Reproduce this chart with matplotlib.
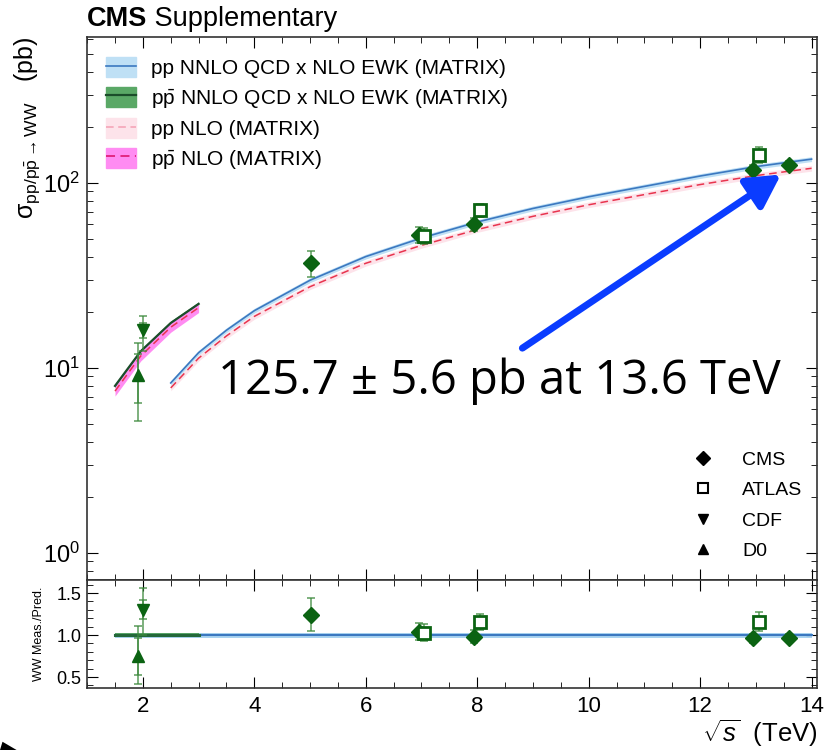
import matplotlib.pyplot as plt
from matplotlib.lines import Line2D
from matplotlib.patches import Patch, Polygon
from matplotlib.ticker import MultipleLocator, LogLocator, NullFormatter, FormatStrFormatter, FuncFormatter
import numpy as np

plt.rcParams['font.family'] = ['Liberation Sans', 'DejaVu Sans']
plt.rcParams['mathtext.fontset'] = 'custom'
plt.rcParams['mathtext.rm'] = 'Liberation Sans'
plt.rcParams['mathtext.it'] = 'Liberation Sans:italic'
plt.rcParams['mathtext.bf'] = 'Liberation Sans:bold'

# MATRIX predictions for pp -> WW (pb)
pp_sqrts = [2.5, 3.0, 3.5, 4.0, 5.0, 6.0, 7.0, 8.0, 9.0, 10.0, 11.0, 12.0, 13.0, 13.6, 14.0]
pp_nnlo = [8.3, 12.1, 16.0, 20.4, 29.8, 40.0, 50.4, 61.5, 72.8, 84.2, 95.8, 109.0, 122.5, 129.6, 134.5]
pp_nlo = [7.8, 11.3, 14.9, 19.0, 27.5, 36.8, 46.0, 56.0, 66.0, 76.2, 86.5, 98.0, 109.5, 115.8, 120.0]
pp_nnlo_rel = 0.03
pp_nlo_rel = 0.035

# MATRIX predictions for ppbar -> WW (pb)
ppbar_sqrts = [1.5, 1.96, 2.5, 3.0]
ppbar_nnlo = [8.0, 12.3, 17.5, 22.2]
ppbar_nlo = [7.5, 11.6, 16.6, 21.2]
ppbar_nnlo_rel = 0.025
ppbar_nlo_rel = 0.06

# measurements (pb); pred = NNLO prediction at the same energy
cms_sqrts = [5.02, 6.95, 7.95, 12.95, 13.6]
cms_xsec = [37.0, 52.4, 60.1, 117.6, 125.7]
cms_err = [5.8, 5.1, 4.8, 6.8, 5.6]
cms_pred = [29.8, 50.4, 61.5, 122.5, 129.6]

atlas_sqrts = [7.05, 8.05, 13.05]
atlas_xsec = [51.9, 71.1, 142.0]
atlas_err = [4.9, 5.6, 14.0]
atlas_pred = [50.4, 61.5, 122.5]

cdf_sqrts = [2.0]
cdf_xsec = [16.0]
cdf_err_lo = [3.7]
cdf_err_hi = [3.2]
cdf_stat = [1.4]
cdf_pred = [12.3]

d0_sqrts = [1.92]
d0_xsec = [9.2]
d0_err_lo = [4.0]
d0_err_hi = [4.4]
d0_stat = [2.7]
d0_pred = [12.3]

ratio_range = [1.5, 14.0]
ppbar_ratio_range = [1.5, 3.0]

green = '#0b6312'
err_green = '#3d8a3d'
blue_line = '#3b78c0'
blue_band = '#bfe0f5'
dkgreen_line = '#1b4d2a'
green_band = '#5aa866'
red_line = '#e8344e'
pink_band = '#fde3ea'
magenta_band = '#ff8cf2'

fig = plt.figure(figsize=(8.3, 7.5), dpi=100)
ax = fig.add_axes([0.105, 0.2267, 0.8795, 0.724])
rax = fig.add_axes([0.105, 0.0827, 0.8795, 0.144], sharex=ax)

# theory bands and central lines
pp_nnlo = np.array(pp_nnlo)
pp_nlo = np.array(pp_nlo)
ppbar_nnlo = np.array(ppbar_nnlo)
ppbar_nlo = np.array(ppbar_nlo)

ax.fill_between(pp_sqrts, pp_nlo * (1 - pp_nlo_rel), pp_nlo * (1 + pp_nlo_rel), color=pink_band, lw=0)
ax.fill_between(pp_sqrts, pp_nnlo * (1 - pp_nnlo_rel), pp_nnlo * (1 + pp_nnlo_rel), color=blue_band, lw=0)
ax.plot(pp_sqrts, pp_nnlo, color=blue_line, lw=1.2)
ax.plot(pp_sqrts, pp_nlo, color=red_line, lw=1.1, ls=(0, (5, 3)))

ax.fill_between(ppbar_sqrts, ppbar_nnlo * (1 - ppbar_nnlo_rel), ppbar_nnlo * (1 + ppbar_nnlo_rel), color=green_band, lw=0)
ax.fill_between(ppbar_sqrts, ppbar_nlo * (1 - ppbar_nlo_rel), ppbar_nlo * (1 + ppbar_nlo_rel), color=magenta_band, lw=0)
ax.plot(ppbar_sqrts, ppbar_nnlo, color=dkgreen_line, lw=1.6)
ax.plot(ppbar_sqrts, ppbar_nlo, color=red_line, lw=1.1, ls=(0, (5, 3)))


def draw_points(axis, x, y, lo, hi, marker, ms, filled, stat=None):
    axis.errorbar(x, y, yerr=[lo, hi], fmt='none', ecolor=err_green, elinewidth=1.1,
                  capsize=3, capthick=1.1, alpha=0.85, zorder=4)
    if stat is not None:
        axis.errorbar(x, y, yerr=[stat, stat], fmt='none', ecolor=err_green, elinewidth=1.1,
                      capsize=3, capthick=1.1, alpha=0.85, zorder=4)
    axis.plot(x, y, ls='none', marker=marker, ms=ms, mec=green, mew=2 if not filled else 1,
              mfc=green if filled else 'white', zorder=5)


# measurements
draw_points(ax, cms_sqrts, cms_xsec, cms_err, cms_err, 'D', 8.5, True)
draw_points(ax, atlas_sqrts, atlas_xsec, atlas_err, atlas_err, 's', 8, False)
draw_points(ax, cdf_sqrts, cdf_xsec, cdf_err_lo, cdf_err_hi, 'v', 9, True, cdf_stat)
draw_points(ax, d0_sqrts, d0_xsec, d0_err_lo, d0_err_hi, '^', 9, True, d0_stat)

# ratio panel
rax.fill_between(ratio_range, [1 - pp_nnlo_rel] * 2, [1 + pp_nnlo_rel] * 2, color='#a9d3f0', lw=0)
rax.plot(ratio_range, [1, 1], color=blue_line, lw=1.5)
rax.fill_between(ppbar_ratio_range, [1 - ppbar_nnlo_rel] * 2, [1 + ppbar_nnlo_rel] * 2, color=green_band, lw=0)
rax.plot(ppbar_ratio_range, [1, 1], color='#24683a', lw=2.2)

for x, y, lo, hi, pred, m, ms, filled, stat in [
        (cms_sqrts, cms_xsec, cms_err, cms_err, cms_pred, 'D', 8.5, True, None),
        (atlas_sqrts, atlas_xsec, atlas_err, atlas_err, atlas_pred, 's', 8, False, None),
        (cdf_sqrts, cdf_xsec, cdf_err_lo, cdf_err_hi, cdf_pred, 'v', 9, True, cdf_stat),
        (d0_sqrts, d0_xsec, d0_err_lo, d0_err_hi, d0_pred, '^', 9, True, d0_stat)]:
    pred = np.array(pred)
    r = np.array(y) / pred
    rs = None if stat is None else np.array(stat) / pred
    draw_points(rax, x, r, np.array(lo) / pred, np.array(hi) / pred, m, ms, filled, rs)

# axes styling
ax.set_yscale('log')
ax.set_xlim(1.0, 14.1)
ax.set_ylim(0.715, 615)
rax.set_ylim(0.37, 1.655)

for a in (ax, rax):
    a.tick_params(which='both', direction='in', top=True, right=True)
    a.tick_params(which='major', length=8)
    a.tick_params(which='minor', length=4)
    for s in a.spines.values():
        s.set_color('#333333')
        s.set_linewidth(1.2)
ax.xaxis.set_major_locator(MultipleLocator(2))
ax.xaxis.set_minor_locator(MultipleLocator(0.5))
ax.yaxis.set_major_locator(LogLocator(base=10))
ax.yaxis.set_major_formatter(FuncFormatter(lambda v, pos: r'$10^{%d}$' % round(np.log10(v))))
ax.yaxis.set_minor_locator(LogLocator(base=10, subs=np.arange(2, 10)))
ax.yaxis.set_minor_formatter(NullFormatter())
ax.tick_params(axis='y', labelsize=17, pad=5)
ax.tick_params(labelbottom=False)
rax.yaxis.set_major_locator(MultipleLocator(0.5))
rax.yaxis.set_minor_locator(MultipleLocator(0.1))
rax.yaxis.set_major_formatter(FormatStrFormatter('%.1f'))
rax.tick_params(axis='y', labelsize=13, pad=4)
rax.tick_params(axis='x', labelsize=16, pad=6)

ax.set_ylabel('σ$_{\\mathrm{pp/p\\bar{p}\\rightarrow WW}}$   (pb)', fontsize=18, loc='top')
ax.yaxis.set_label_coords(-0.062, 1.0)
rax.set_ylabel('WW Meas./Pred.', fontsize=9)
rax.yaxis.set_label_coords(-0.058, 0.5)
rax.set_xlabel(r'$\sqrt{s}$  (TeV)', fontsize=18.5, loc='right', labelpad=0)

cms = ax.text(0.0, 1.01, 'CMS', transform=ax.transAxes, fontsize=19.5, fontweight='bold', va='bottom')
ax.annotate(' Supplementary', xy=(1, 0), xycoords=cms, fontsize=19.5, va='bottom')

# theory legend
th_handles = [
    (Patch(color=blue_band), Line2D([], [], color=blue_line, lw=1.2)),
    (Patch(color=green_band), Line2D([], [], color=dkgreen_line, lw=1.6)),
    (Patch(color=pink_band), Line2D([], [], color='#f4a0b4', lw=1.1, ls=(0, (5, 3)))),
    (Patch(color=magenta_band), Line2D([], [], color='#e0207a', lw=1.3, ls=(0, (5, 3)))),
]
th_labels = ['pp NNLO QCD x NLO EWK (MATRIX)', r'p$\bar{\mathrm{p}}$ NNLO QCD x NLO EWK (MATRIX)',
             'pp NLO (MATRIX)', r'p$\bar{\mathrm{p}}$ NLO (MATRIX)']
leg1 = ax.legend(th_handles, th_labels, loc='upper left', bbox_to_anchor=(0.0, 0.997), frameon=False,
                 fontsize=15, handlelength=1.45, handleheight=1.1, labelspacing=0.4, handletextpad=0.7)
ax.add_artist(leg1)

# experiment legend
exp_handles = [
    Line2D([], [], ls='none', marker='D', ms=7, color='black'),
    Line2D([], [], ls='none', marker='s', ms=7, mfc='white', mec='black', mew=1.5),
    Line2D([], [], ls='none', marker='v', ms=7, color='black'),
    Line2D([], [], ls='none', marker='^', ms=7, color='black'),
]
ax.legend(exp_handles, ['CMS', 'ATLAS', 'CDF', 'D0'], loc='lower right', bbox_to_anchor=(1.004, 0.005),
          frameon=False, fontsize=14, handletextpad=1.0, labelspacing=0.65)

# highlighted 13.6 TeV result
ax.annotate('', xy=(13.45, 111), xytext=(8.81, 12.8),
            arrowprops=dict(arrowstyle='-|>,head_length=2.0,head_width=1.1', color='#0a3cff', lw=5,
                            shrinkA=0, shrinkB=0), zorder=6)
ax.text(3.35, 8.5, '125.7 ± 5.6 pb at 13.6 TeV', fontsize=34, family=['Open Sans', 'DejaVu Sans'],
        va='center', ha='left', zorder=7)

fig.patches.append(Polygon([[0, 0], [0.02, 0], [0.003, 0.011]], closed=True, transform=fig.transFigure,
                           facecolor='black', edgecolor='none'))

fig.savefig('out.png', dpi=100)
